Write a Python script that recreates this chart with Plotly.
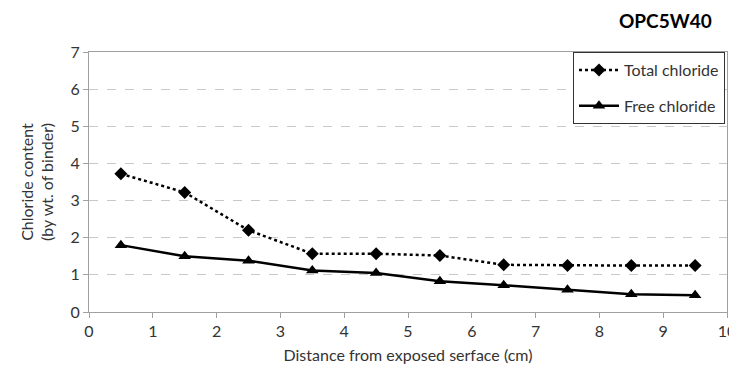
import plotly.graph_objects as go

distance = [0.5, 1.5, 2.5, 3.5, 4.5, 5.5, 6.5, 7.5, 8.5, 9.5]
total_chloride = [3.72, 3.22, 2.2, 1.57, 1.57, 1.52, 1.27, 1.25, 1.25, 1.25]
free_chloride = [1.8, 1.5, 1.38, 1.12, 1.05, 0.83, 0.72, 0.6, 0.48, 0.45]
x_ticks = list(range(0, 11))
y_ticks = list(range(0, 8))

FONT = "Lato"
W, H = 729, 364
L, R, T, B = 81, 10, 44, 60
PW, PH = W - L - R, H - T - B

fig = go.Figure()
fig.add_trace(go.Scatter(
    x=distance, y=total_chloride, name="Total chloride", mode="lines+markers",
    legendgroup="total",
    line=dict(color="black", width=2.5, dash="dot"),
    marker=dict(symbol="diamond", size=10, color="black"),
))
fig.add_trace(go.Scatter(
    x=distance, y=free_chloride, name="Free chloride", mode="lines+markers",
    legendgroup="free",
    line=dict(color="black", width=2.5),
    marker=dict(symbol="triangle-up", size=11, color="black"),
))

fig.update_layout(
    width=W, height=H,
    margin=dict(l=L, r=R, t=T, b=B, autoexpand=False),
    paper_bgcolor="white", plot_bgcolor="white",
    font=dict(family=FONT, size=16, color="#333333"),
    showlegend=True,
    legend=dict(
        x=(565 - L) / PW, y=1.0, xanchor="left", yanchor="top",
        bordercolor="#333333", borderwidth=1, bgcolor="white",
        font=dict(family=FONT, size=16, color="#333333"),
        tracegroupgap=12, itemwidth=40,
    ),
    annotations=[dict(
        text="<b>OPC5W40</b>", xref="paper", yref="paper",
        x=(657 - L) / PW, y=1 + (T - 12) / PH,
        showarrow=False, font=dict(family=FONT, size=19, color="black"),
        xanchor="center", yanchor="middle",
    )],
)

fig.update_xaxes(
    range=[0, 10], tickvals=x_ticks, showgrid=False, zeroline=False,
    showline=True, linecolor="#a0a0a0", linewidth=1, mirror=True,
    ticks="outside", ticklen=5, tickcolor="#a0a0a0", automargin=False,
    title=dict(text="Distance from exposed serface (cm)", font=dict(family=FONT, size=16, color="#333333"), standoff=10),
)
fig.update_yaxes(
    range=[0, 7], tickvals=y_ticks, showgrid=True, gridcolor="#c8c8c8", griddash="dash",
    zeroline=False, showline=True, linecolor="#a0a0a0", linewidth=1, mirror=True,
    ticks="outside", ticklen=5, tickcolor="#a0a0a0", automargin=False,
    title=dict(text="Chloride content<br>(by wt. of binder)", font=dict(family=FONT, size=16, color="#333333"), standoff=12),
)

fig.write_html("out.html")
